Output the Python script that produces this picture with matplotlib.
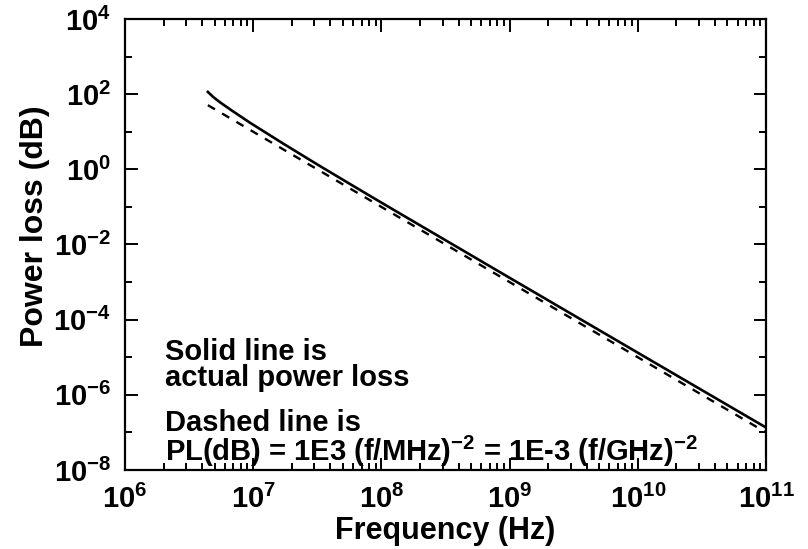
"""Power loss versus frequency, actual curve against the 1/f^2 rule of thumb."""

import math

import matplotlib

matplotlib.use("Agg")
import matplotlib.pyplot as plt  # noqa: E402
from matplotlib.ticker import FixedLocator, FuncFormatter, NullFormatter  # noqa: E402

# Values.
freq_solid = [4.43e6, 4.86e6, 5.5e6, 6.95e6, 9.44e6, 1.71e7, 3.15e7, 5.67e7,
              1e8, 1e9, 1e10, 1e11]
loss_solid = [115, 85, 61, 35, 17.4, 4.86, 1.36, 0.41,
              0.13, 1.3e-3, 1.32e-5, 1.35e-7]

freq_dashed = [4.43e6, 1e7, 1e8, 1e9, 1e10, 1e11]
loss_dashed = [51, 10, 0.1, 1e-3, 1e-5, 1e-7]

x_major = [1e6, 1e7, 1e8, 1e9, 1e10, 1e11]
x_minor = [m * 10.0 ** e for e in range(6, 11) for m in range(2, 10)]
y_major = [1e-8, 1e-6, 1e-4, 1e-2, 1e0, 1e2, 1e4]
y_minor = [1e-7, 1e-5, 1e-3, 1e-1, 1e1, 1e3]

plt.rcParams["font.family"] = ["Liberation Sans", "DejaVu Sans"]
plt.rcParams["font.weight"] = "bold"
plt.rcParams["mathtext.fontset"] = "custom"
plt.rcParams["mathtext.rm"] = "Liberation Sans:bold"
plt.rcParams["mathtext.it"] = "Liberation Sans:bold"
plt.rcParams["mathtext.bf"] = "Liberation Sans:bold"

fig = plt.figure(figsize=(8.08, 5.49), dpi=100)
ax = fig.add_axes([0.1547, 0.1439, 0.7933, 0.8215])

ax.plot(freq_solid, loss_solid, color="black", linewidth=1.9)
ax.plot(freq_dashed, loss_dashed, color="black", linewidth=1.7,
        linestyle=(0, (3.5, 3.5)))

ax.set_xscale("log")
ax.set_yscale("log")
ax.set_xlim(1e6, 1e11)
ax.set_ylim(1e-8, 1e4)

ax.xaxis.set_major_locator(FixedLocator(x_major))
ax.xaxis.set_minor_locator(FixedLocator(x_minor))
ax.yaxis.set_major_locator(FixedLocator(y_major))
ax.yaxis.set_minor_locator(FixedLocator(y_minor))
ax.xaxis.set_minor_formatter(NullFormatter())
ax.yaxis.set_minor_formatter(NullFormatter())

power_label = FuncFormatter(lambda v, _: f"$10^{{{int(round(math.log10(v)))}}}$")
ax.xaxis.set_major_formatter(power_label)
ax.yaxis.set_major_formatter(power_label)

for side in ax.spines.values():
    side.set_linewidth(1.6)

ax.tick_params(which="both", direction="in", top=True, right=True,
               width=1.4, labelsize=21)
ax.tick_params(which="major", length=9)
ax.tick_params(which="minor", length=5)
ax.tick_params(axis="x", which="major", pad=11)
ax.tick_params(axis="y", which="major", pad=10)

ax.set_xlabel("Frequency (Hz)", fontsize=22, fontweight="bold", labelpad=1)
ax.set_ylabel("Power loss (dB)", fontsize=23, fontweight="bold")
ax.yaxis.set_label_coords(-0.117, 0.54)

ax.text(0.0624, 0.2927, "Solid line is\nactual power loss", transform=ax.transAxes,
        fontsize=21, fontweight="bold", va="top", ha="left", linespacing=0.9)
ax.text(0.0624, 0.136,
        "Dashed line is\nPL(dB) = 1E3 (f/MHz)$^{-2}$ = 1E-3 (f/GHz)$^{-2}$",
        transform=ax.transAxes, fontsize=21, fontweight="bold",
        va="top", ha="left", linespacing=0.9)

fig.savefig("out.png", dpi=100)
